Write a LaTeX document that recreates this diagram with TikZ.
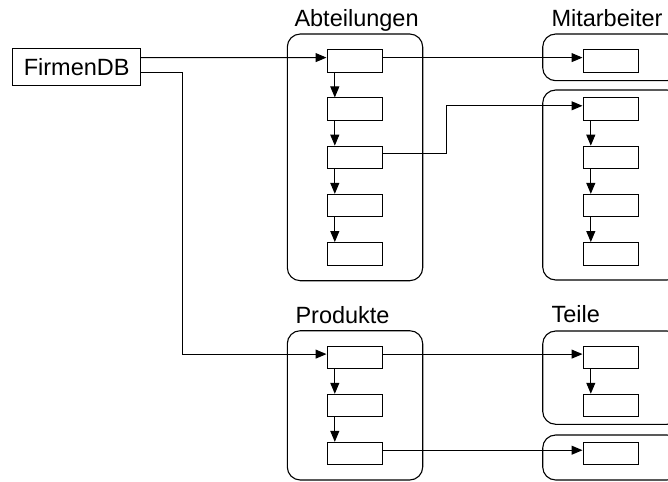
\documentclass[tikz,border=0pt]{standalone}
\usepackage{fontspec}
\setmainfont{Liberation Sans}
\usetikzlibrary{arrows.meta}

\begin{document}
\begin{tikzpicture}[x=1pt, y=-1pt, >={Triangle[length=11pt,width=9pt]}, line width=1pt,
  elem/.style={draw, minimum width=55pt, minimum height=22.5pt, inner sep=0pt},
  group/.style={draw, line width=1.1pt, rounded corners=13pt},
  title/.style={anchor=base west, inner sep=0pt, font=\fontsize{23.5}{28}\selectfont}]
\clip (0,0) rectangle (668,481);
% Datenbank
\node[draw, minimum width=128pt, minimum height=36.7pt, inner sep=0pt, font=\fontsize{23.5}{28}\selectfont] (fdb) at (76.7,66.7) {FirmenDB};
% Gruppen
\draw[group] (287.3,34) rectangle (422.7,280.7);
\draw[group] (542.7,34) rectangle (680,80.7);
\draw[group] (542.7,90) rectangle (680,280);
\draw[group] (287.3,330.7) rectangle (422.7,480);
\draw[group] (542.7,331) rectangle (680,424.3);
\draw[group] (542.7,435) rectangle (680,480);
\node[title] (tabt) at (294,26.7) {Abteilungen};
\node[title] (tmit) at (551,26.7) {Mitarbeiter};
\node[title] (tprod) at (295,323) {Produkte};
\node[title] (tteil) at (551,322.5) {Teile};
% Elemente
\foreach \i in {1,...,5}
  \node[elem] (a\i) at (354.5,{61+(\i-1)*48.2}) {};
\node[elem] (m0) at (610.5,61) {};
\foreach \i in {1,...,4}
  \node[elem] (m\i) at (610.5,{61+\i*48.2}) {};
\foreach \i in {1,...,3}
  \node[elem] (p\i) at (354.5,{357.5+(\i-1)*48.05}) {};
\node[elem] (t1) at (610.5,357.5) {};
\node[elem] (t2) at (610.5,405.5) {};
\node[elem] (t3) at (610.5,453.6) {};
% Verkettung
\foreach \i/\j in {1/2,2/3,3/4,4/5}
  \draw[->] ([xshift=8.3pt]a\i.south west) -- ([xshift=8.3pt]a\j.north west);
\foreach \i/\j in {1/2,2/3,3/4}
  \draw[->] ([xshift=8.3pt]m\i.south west) -- ([xshift=8.3pt]m\j.north west);
\foreach \i/\j in {1/2,2/3}
  \draw[->] ([xshift=8.3pt]p\i.south west) -- ([xshift=8.3pt]p\j.north west);
\draw[->] ([xshift=8.3pt]t1.south west) -- ([xshift=8.3pt]t2.north west);
% Verweise
\draw[->] ([yshift=9.1pt]fdb.east) -- ([yshift=3.4pt]a1.west);
\draw[->] ([yshift=-5.6pt]fdb.east) -- ++(41.5,0) |- ([yshift=3.4pt]p1.west);
\draw[->] ([yshift=3.4pt]a1.east) -- ([yshift=3.4pt]m0.west);
\draw[->] ([yshift=3.4pt]a3.east) -- ++(64,0) |- ([yshift=3.4pt]m1.west);
\draw[->] ([yshift=3.4pt]p1.east) -- ([yshift=3.4pt]t1.west);
\draw[->] ([yshift=3.4pt]p3.east) -- ([yshift=3.4pt]t3.west);
\end{tikzpicture}
\end{document}
